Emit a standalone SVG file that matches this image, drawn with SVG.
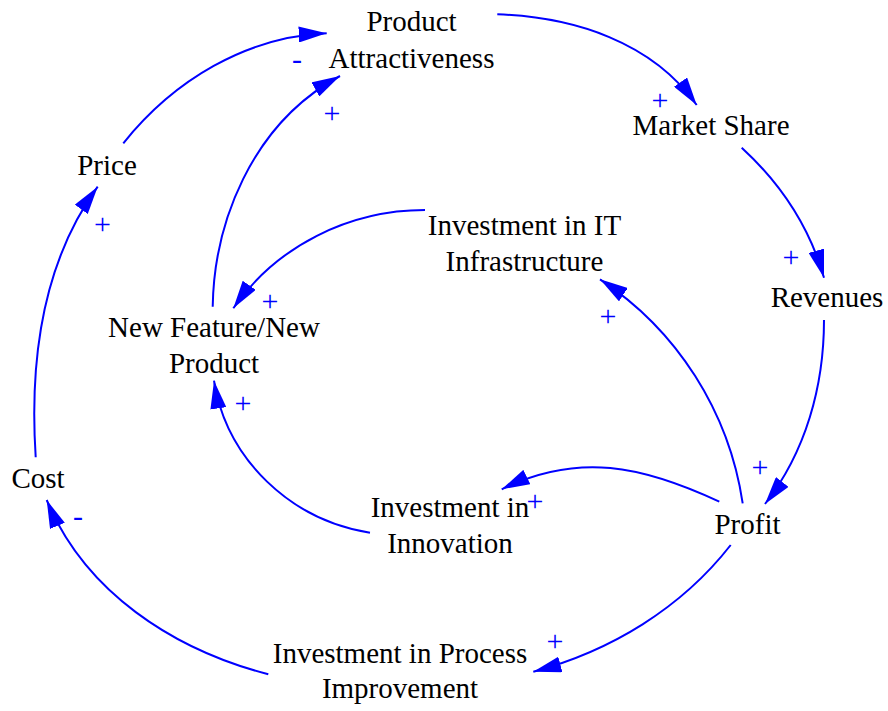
<svg xmlns="http://www.w3.org/2000/svg" width="888" height="711" viewBox="0 0 888 711">
<defs>
<style>
.lbl{font-family:"Liberation Serif","Times New Roman",serif;font-size:29px;fill:#000;text-anchor:middle}
.sgn{font-family:"Liberation Serif","Times New Roman",serif;font-size:30px;fill:#0000ff;text-anchor:middle}
.lnk{fill:none;stroke:#0000ff;stroke-width:2;marker-end:url(#ah)}
</style>
<marker id="ah" markerUnits="userSpaceOnUse" markerWidth="28" markerHeight="16" viewBox="0 0 28 16" refX="28" refY="8" orient="auto">
<path d="M0,0 L28,8 L0,16 z" fill="#0000ff"/>
</marker>
</defs>
<rect width="888" height="711" fill="#fff"/>
<g id="connectors">
<path class="lnk" d="M123.3,143.3 C173.7,80.3 246.1,36.7 326.7,33.3"/>
<path class="lnk" d="M212.7,306.7 C214,225 250,125 340,76"/>
<path class="lnk" d="M497.3,14.3 C574.3,17 652.3,42.1 696.7,105"/>
<path class="lnk" d="M741.7,147.7 C780.2,183.1 809.6,227.4 824,277.7"/>
<path class="lnk" d="M824,320 C824,386.2 805.8,451.8 765,504"/>
<path class="lnk" d="M742.7,503.3 C729,411.8 677.3,330.1 600,279.3"/>
<path class="lnk" d="M719.3,501.7 C642.3,465.8 578.1,452 501.7,489.3"/>
<path class="lnk" d="M730.7,545 C681.3,608.3 610.9,650.9 533.3,671.7"/>
<path class="lnk" d="M370,532.7 C291,520.2 226.5,459.7 214,380.7"/>
<path class="lnk" d="M425,210 C349,210 276.6,246 233.3,308.3"/>
<path class="lnk" d="M268.3,674.3 C172.3,649.3 84.7,591.6 46.7,500"/>
<path class="lnk" d="M35.7,457.3 C29.5,362.1 41.6,263.9 97.7,186.7"/>
</g>
<g id="signs">
<text class="sgn" x="297" y="69">-</text>
<text class="sgn" x="332" y="122.5">+</text>
<text class="sgn" x="660" y="110">+</text>
<text class="sgn" x="791" y="267">+</text>
<text class="sgn" x="760" y="476.5">+</text>
<text class="sgn" x="608" y="325.5">+</text>
<text class="sgn" x="535" y="511">+</text>
<text class="sgn" x="555" y="650.5">+</text>
<text class="sgn" x="243" y="412.5">+</text>
<text class="sgn" x="270" y="311">+</text>
<text class="sgn" x="78" y="525.5">-</text>
<text class="sgn" x="102.5" y="233.5">+</text>
</g>
<g id="product-attractiveness"><text class="lbl" x="411.5" y="31">Product</text><text class="lbl" x="411.5" y="67.5">Attractiveness</text></g>
<g id="market-share"><text class="lbl" x="711" y="135">Market Share</text></g>
<g id="price"><text class="lbl" x="107" y="175">Price</text></g>
<g id="investment-it"><text class="lbl" x="524.5" y="235">Investment in IT</text><text class="lbl" x="524.5" y="270.5">Infrastructure</text></g>
<g id="revenues"><text class="lbl" x="827" y="307">Revenues</text></g>
<g id="new-feature"><text class="lbl" x="214" y="336.5">New Feature/New</text><text class="lbl" x="214" y="373">Product</text></g>
<g id="cost"><text class="lbl" x="38" y="488">Cost</text></g>
<g id="investment-innovation"><text class="lbl" x="450" y="517">Investment in</text><text class="lbl" x="450" y="552.5">Innovation</text></g>
<g id="profit"><text class="lbl" x="747.5" y="533.5">Profit</text></g>
<g id="investment-process"><text class="lbl" x="400" y="662.5">Investment in Process</text><text class="lbl" x="400" y="698">Improvement</text></g>
</svg>
